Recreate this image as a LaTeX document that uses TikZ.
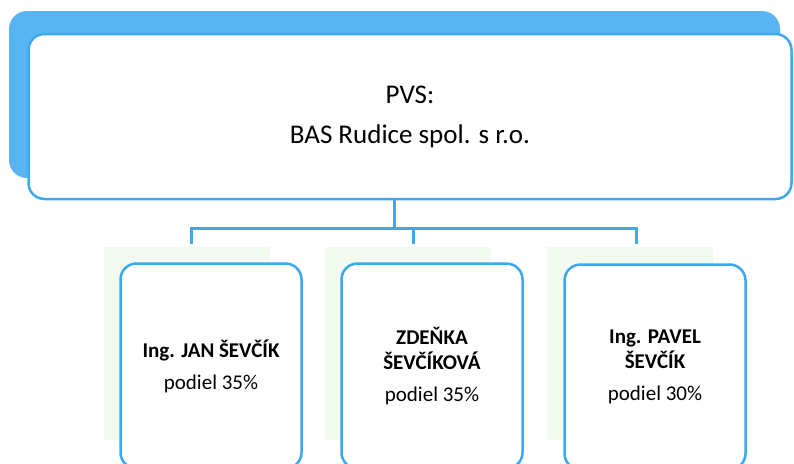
\documentclass[tikz,border=0pt]{standalone}
\usepackage{fontspec}
\setmainfont{Carlito}
\definecolor{pvsblue}{RGB}{60,168,240}
\definecolor{shadegreen}{RGB}{242,250,240}
\tikzset{
  owner/.style={draw=pvsblue, line width=2.5pt, fill=white, rounded corners=16pt,
    minimum width=181pt, minimum height=205pt, align=center,
    font=\fontsize{21}{24.5}\selectfont},
  link/.style={draw=pvsblue, line width=3pt},
}
\begin{document}
\begin{tikzpicture}[x=1pt, y=-1pt]
  \useasboundingbox (0,0) rectangle (794,463);
  \clip (0,0) rectangle (794,463);
  \fill[white] (0,0) rectangle (794,463);

  % top box with its blue shadow
  \fill[pvsblue!85, rounded corners=18pt] (9,11) rectangle (780,178);
  \node[draw=pvsblue, line width=2.5pt, fill=white, rounded corners=16pt,
    minimum width=763pt, minimum height=165pt, align=center,
    font=\fontsize{27}{40}\selectfont] (pvs) at (410,116.5)
    {PVS:\\BAS Rudice spol. s r.o.};

  % pale shadows of the owners
  \foreach \x in {120,341,563}
    \fill[shadegreen] (\x-16,247) rectangle (\x+150,440);

  \node[owner] (jan) at (211,366)
    {\textbf{Ing. JAN ŠEVČÍK}\\[7.5pt]podiel 35\%};
  \node[owner] (zdenka) at (432,366)
    {\textbf{ZDEŇKA}\\\textbf{ŠEVČÍKOVÁ}\\[7.5pt]podiel 35\%};
  \node[owner] (pavel) at (655,367)
    {\textbf{Ing. PAVEL}\\\textbf{ŠEVČÍK}\\[7.5pt]podiel 30\%};

  \coordinate (trunk) at ([xshift=-16pt]pvs.south);
  \coordinate (bus) at (394,228);
  \coordinate (jan in) at (191,244);
  \coordinate (zdenka in) at (413,244);
  \coordinate (pavel in) at (636,244);

  \draw[link] (trunk) -- (bus);
  \draw[link] (jan in) |- (bus) -| (pavel in);
  \draw[link] (zdenka in) -- (zdenka in |- bus);
\end{tikzpicture}
\end{document}
